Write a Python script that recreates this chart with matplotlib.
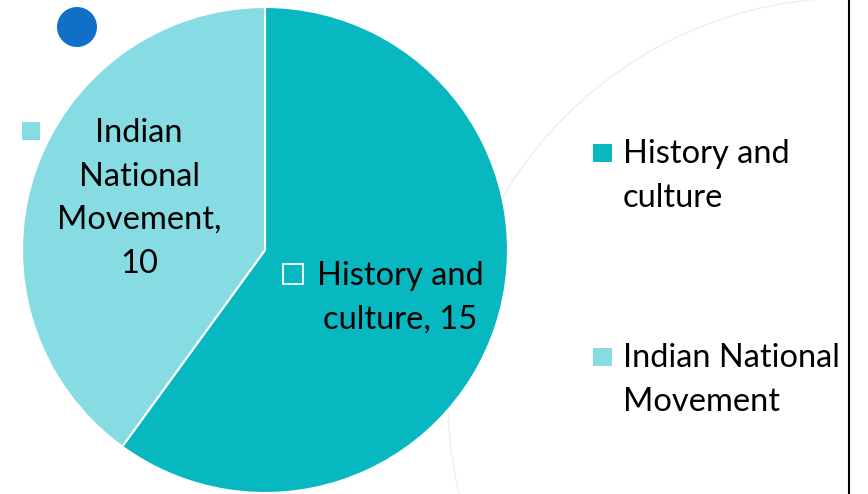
import matplotlib
matplotlib.use("Agg")
import matplotlib.pyplot as plt
from matplotlib.patches import Circle, Rectangle

categories = ["History and culture", "Indian National Movement"]
values = [15, 10]
colors = ["#07B8C0", "#86DCE2"]
label_lines = ["History and\nculture, 15", "Indian\nNational\nMovement,\n10"]
legend_lines = ["History and\nculture", "Indian National\nMovement"]

W, H = 868, 494
FONT = "Lato"
FS = 23.5
LINE = 43.5

fig = plt.figure(figsize=(W / 100, H / 100), dpi=100)
ax = fig.add_axes([0, 0, 1, 1])

# faint background arc
ax.add_patch(Circle((850, 400), 402, fill=False, edgecolor="#EFEFEF", lw=1.0, zorder=0))

wedges, _ = ax.pie(values, colors=colors, startangle=-90, counterclock=True,
                   center=(265, 250), radius=243,
                   wedgeprops=dict(edgecolor="white", linewidth=1.5))
for w in wedges:
    w.set_zorder(1)

ax.set_xlim(0, W)
ax.set_ylim(H, 0)
ax.set_aspect("auto")
ax.axis("off")

# decorative blue dot
ax.add_patch(Circle((77, 27), 20, facecolor="#106FC6", edgecolor="none", zorder=3))

# right border line
ax.plot([849, 849], [0, H], color="black", lw=1.5, zorder=3)


def lines_text(x, y0, text, ha):
    for i, ln in enumerate(text.split("\n")):
        ax.text(x, y0 + i * LINE, ln, ha=ha, va="baseline", fontsize=FS,
                family=FONT, color="black", zorder=5)


# data labels
ax.add_patch(Rectangle((283, 264), 20, 20, facecolor="none", edgecolor="white", lw=1.3, zorder=4))
lines_text(400, 285, label_lines[0], "center")
ax.add_patch(Rectangle((22, 122), 18, 18, facecolor=colors[1], edgecolor="none", zorder=4))
lines_text(139, 142, label_lines[1], "center")

# legend
leg_y = [144, 348]
for col, lab, y in zip(colors, legend_lines, leg_y):
    ax.add_patch(Rectangle((593, y), 19, 18, facecolor=col, edgecolor="none", zorder=4))
    lines_text(623, y + 19, lab, "left")

fig.savefig("out.png", dpi=100, facecolor="white")
